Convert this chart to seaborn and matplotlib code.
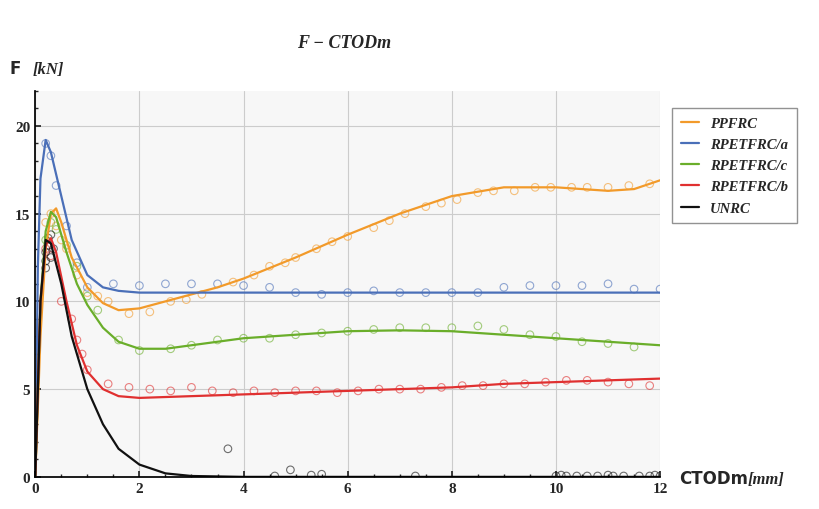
import matplotlib
matplotlib.use("Agg")
import matplotlib.pyplot as plt
import seaborn as sns
import pandas as pd

sns.set_theme(style="whitegrid")
plt.rcParams['font.family'] = ['Liberation Serif', 'DejaVu Sans']

series = ["PPFRC", "RPETFRC/a", "RPETFRC/c", "RPETFRC/b", "UNRC"]
colors = ["#f29a2a", "#4a6fb8", "#6aae2a", "#e03030", "#111111"]

pp_x = [0,0.1,0.2,0.3,0.4,0.5,0.7,1,1.3,1.6,2,2.5,3,3.5,4,5,6,7,8,9,10,11,11.5,12]
pp_y = [0,8,13,15,15.3,14.5,12.5,10.8,9.9,9.5,9.6,10,10.4,10.8,11.3,12.5,13.8,15,16,16.5,16.5,16.3,16.4,16.9]
a_x = [0,0.05,0.1,0.2,0.3,0.5,0.7,1,1.3,1.6,2,3,4,6,8,10,12]
a_y = [0,12,17,19.2,18.5,16,13.5,11.5,10.8,10.6,10.5,10.5,10.5,10.5,10.5,10.5,10.5]
c_x = [0,0.1,0.2,0.3,0.4,0.6,0.8,1,1.3,1.6,2,2.5,3,4,5,6,7,8,9,10,11,12]
c_y = [0,10,14,15.1,14.8,12.8,11,9.8,8.5,7.7,7.3,7.3,7.5,7.9,8.1,8.3,8.35,8.3,8.1,7.9,7.7,7.5]
b_x = [0,0.1,0.2,0.3,0.4,0.6,0.8,1,1.3,1.6,2,3,4,5,6,7,8,9,10,11,12]
b_y = [0,10,13.2,13.6,12.8,10,7.5,6,5,4.6,4.5,4.6,4.7,4.8,4.9,5,5.1,5.3,5.4,5.5,5.6]
u_x = [0,0.1,0.2,0.3,0.5,0.7,1,1.3,1.6,2,2.5,3,4,12]
u_y = [0,10,13.5,13.3,11,8,5,3,1.6,0.7,0.2,0.05,0,0]

pp_sx = [0.2,0.3,0.4,0.5,0.6,0.8,1.0,1.2,1.4,1.8,2.2,2.6,2.9,3.2,3.8,4.2,4.5,4.8,5.0,5.4,5.7,6.0,6.5,6.8,7.1,7.5,7.8,8.1,8.5,8.8,9.2,9.6,9.9,10.3,10.6,11.0,11.4,11.8]
pp_sy = [14.5,15.0,14.3,13.5,13.0,11.5,10.5,10.3,10.0,9.3,9.4,10.0,10.1,10.4,11.1,11.5,12.0,12.2,12.5,13.0,13.4,13.7,14.2,14.6,15.0,15.4,15.6,15.8,16.2,16.3,16.3,16.5,16.5,16.5,16.5,16.5,16.6,16.7]
a_sx = [0.2,0.3,0.4,0.6,0.8,1.0,1.5,2.0,2.5,3.0,3.5,4.0,4.5,5.0,5.5,6.0,6.5,7.0,7.5,8.0,8.5,9.0,9.5,10.0,10.5,11.0,11.5,12.0]
a_sy = [19.0,18.3,16.6,14.3,12.2,10.8,11.0,10.9,11.0,11.0,11.0,10.9,10.8,10.5,10.4,10.5,10.6,10.5,10.5,10.5,10.5,10.8,10.9,10.9,10.9,11.0,10.7,10.7]
c_sx = [0.2,0.3,0.4,0.6,0.8,1.0,1.2,1.6,2.0,2.6,3.0,3.5,4.0,4.5,5.0,5.5,6.0,6.5,7.0,7.5,8.0,8.5,9.0,9.5,10.0,10.5,11.0,11.5]
c_sy = [13.5,14.5,14.1,13.2,12.0,10.3,9.5,7.8,7.2,7.3,7.5,7.8,7.9,7.9,8.1,8.2,8.3,8.4,8.5,8.5,8.5,8.6,8.4,8.1,8.0,7.7,7.6,7.4]
b_sx = [0.2,0.3,0.5,0.7,0.8,0.9,1.0,1.4,1.8,2.2,2.6,3.0,3.4,3.8,4.2,4.6,5.0,5.4,5.8,6.2,6.6,7.0,7.4,7.8,8.2,8.6,9.0,9.4,9.8,10.2,10.6,11.0,11.4,11.8]
b_sy = [13.0,12.6,10.0,9.0,7.8,7.0,6.1,5.3,5.1,5.0,4.9,5.1,4.9,4.8,4.9,4.8,4.9,4.9,4.8,4.9,5.0,5.0,5.0,5.1,5.2,5.2,5.3,5.3,5.4,5.5,5.5,5.4,5.3,5.2]
u_sx = [0.2,0.2,0.2,0.25,0.25,0.3,0.3,0.35,3.7,4.6,4.9,5.3,5.5,7.3,10.0,10.1,10.2,10.4,10.6,10.8,11.0,11.1,11.3,11.6,11.8,11.9,12.0]
u_sy = [11.9,12.3,12.8,13.2,13.6,12.5,13.8,13.0,1.6,0.05,0.4,0.1,0.15,0.05,0.05,0.1,0.05,0.05,0.05,0.05,0.1,0.05,0.05,0.05,0.05,0.1,0.05]

lines = [(pp_x,pp_y),(a_x,a_y),(c_x,c_y),(b_x,b_y),(u_x,u_y)]
pts = [(pp_sx,pp_sy),(a_sx,a_sy),(c_sx,c_sy),(b_sx,b_sy),(u_sx,u_sy)]

fig = plt.figure(figsize=(8.2,5.1), dpi=100)
fig.patch.set_facecolor("white")
ax = fig.add_axes([0.043,0.063,0.762,0.757])
ax.set_facecolor("#f7f7f7")
for name,col,(lx,ly),(sx,sy) in zip(series,colors,lines,pts):
    sns.scatterplot(x=sx,y=sy,ax=ax,marker="o",s=30,facecolors="none",edgecolor=col,linewidth=0.8,alpha=0.6,legend=False)
    sns.lineplot(x=lx,y=ly,ax=ax,color=col,linewidth=1.6,label=name,sort=False)
ax.set_xlim(0,12); ax.set_ylim(0,22)
ax.set_xticks(range(0,13,2)); ax.set_yticks([0,5,10,15,20])
ax.grid(color="#cccccc", linewidth=0.8)
for s in ["top","right"]: ax.spines[s].set_visible(False)
for s in ["left","bottom"]: ax.spines[s].set_color("black")
ax.minorticks_on(); ax.grid(which="minor", visible=False)
ax.tick_params(which="both", direction="in", left=True, bottom=True, labelsize=11, length=4)
ax.tick_params(which="minor", length=2)
for t in ax.get_xticklabels()+ax.get_yticklabels(): t.set_fontweight("bold")
leg = ax.legend(loc="upper left", bbox_to_anchor=(1.008,0.975), frameon=True, fancybox=False,
                edgecolor="#777777", prop={"style":"italic","weight":"bold","size":10.5},
                handlelength=1.2, labelspacing=0.55, borderpad=0.6)
fig.text(0.42,0.905,"F − CTODm", fontsize=13, style="italic", weight="bold", ha="center")
fig.text(0.012,0.855,"F", fontsize=12, weight="bold", family=["DejaVu Sans"])
fig.text(0.04,0.855,"[kN]", fontsize=12, style="italic", weight="bold")
fig.text(0.828,0.05,"CTODm", fontsize=12, weight="bold", family=["DejaVu Sans"])
fig.text(0.912,0.05,"[mm]", fontsize=12, style="italic", weight="bold")
fig.savefig("out.png", dpi=100)
